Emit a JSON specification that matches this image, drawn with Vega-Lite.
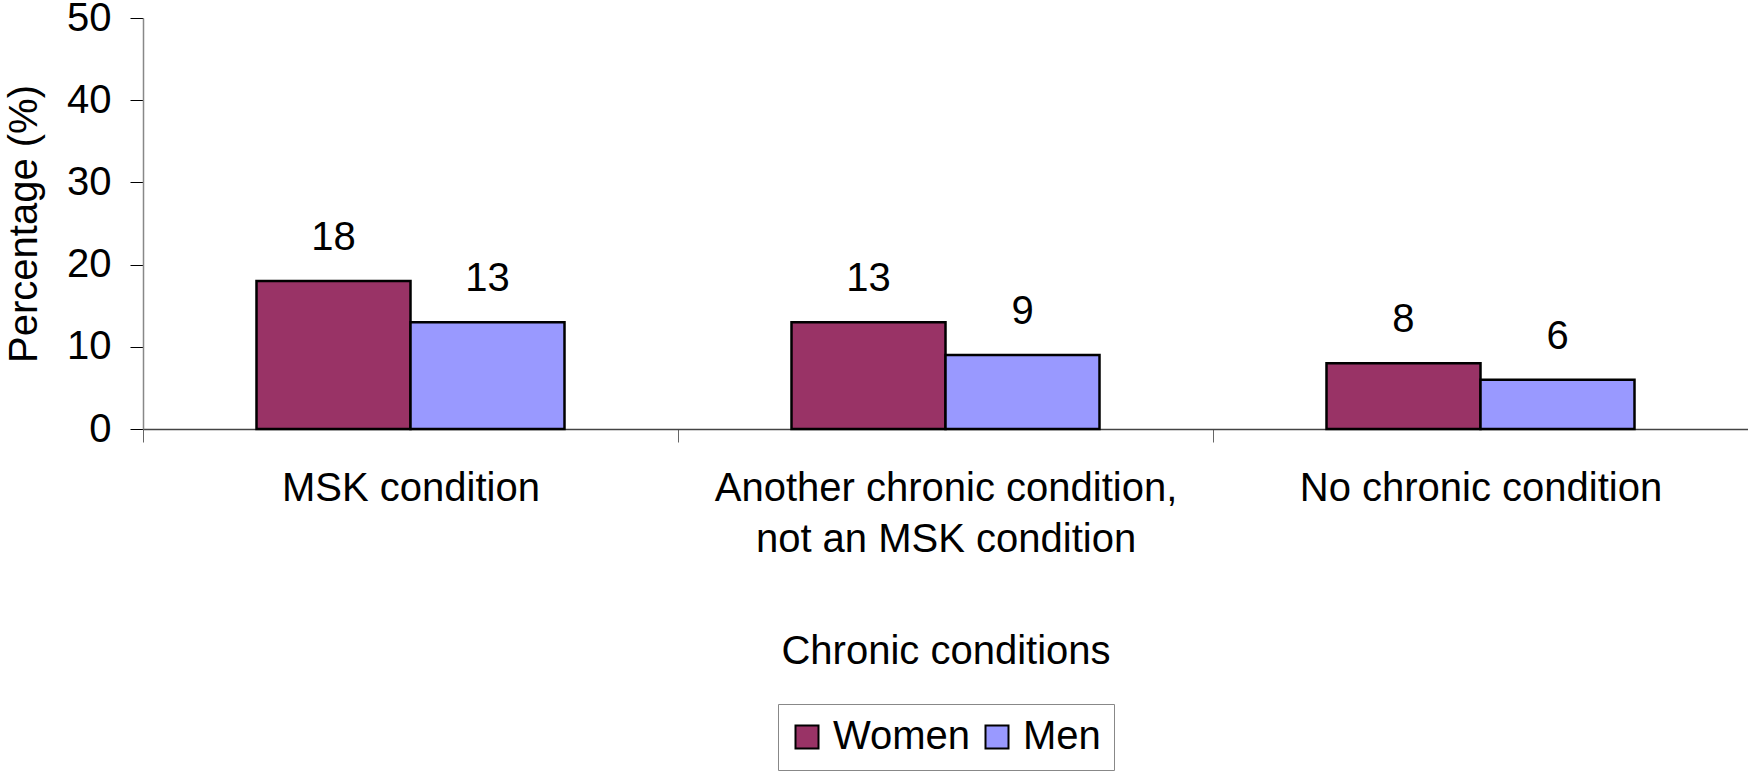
{
  "$schema": "https://vega.github.io/schema/vega-lite/v6.json",
  "width": 1605,
  "height": 411,
  "autosize": "none",
  "padding": {"left": 143, "top": 18, "right": 0, "bottom": 346},
  "background": "white",
  "config": {
    "font": "Liberation Sans",
    "view": {"stroke": null},
    "axis": {"grid": false, "labelFont": "Liberation Sans", "titleFont": "Liberation Sans", "labelColor": "#000", "titleColor": "#000", "titleFontWeight": "normal"}
  },
  "data": {
    "values": [
      {"condition": "MSK condition", "sex": "Women", "pct": 18},
      {"condition": "MSK condition", "sex": "Men", "pct": 13},
      {"condition": "Another chronic condition, not an MSK condition", "sex": "Women", "pct": 13},
      {"condition": "Another chronic condition, not an MSK condition", "sex": "Men", "pct": 9},
      {"condition": "No chronic condition", "sex": "Women", "pct": 8},
      {"condition": "No chronic condition", "sex": "Men", "pct": 6}
    ]
  },
  "encoding": {
    "x": {
      "field": "condition",
      "type": "nominal",
      "sort": null,
      "scale": {"paddingInner": 0, "paddingOuter": 0},
      "axis": {
        "title": "Chronic conditions",
        "titleFontSize": 40,
        "titleBaseline": "alphabetic",
        "titleY": 234,
        "labelAngle": 0,
        "labelFontSize": 40,
        "labelLineHeight": 51,
        "labelPadding": 26,
        "labelLimit": 0,
        "labelExpr": "datum.label == 'Another chronic condition, not an MSK condition' ? ['Another chronic condition,', 'not an MSK condition'] : datum.label",
        "tickBand": "extent",
        "tickSize": 13,
        "tickColor": "#666",
        "domainColor": "#444",
        "domainWidth": 1.5
      }
    },
    "xOffset": {
      "field": "sex",
      "type": "nominal",
      "sort": ["Women", "Men"],
      "scale": {"paddingInner": 0, "paddingOuter": 0.737}
    },
    "y": {
      "field": "pct",
      "type": "quantitative",
      "scale": {"domain": [0, 50]},
      "axis": {
        "title": "Percentage (%)",
        "titleFontSize": 40,
        "titleBaseline": "alphabetic",
        "titleX": -107,
        "values": [0, 10, 20, 30, 40, 50],
        "labelFontSize": 40,
        "labelPadding": 19,
        "tickSize": 13,
        "tickColor": "#000",
        "domainColor": "#888",
        "domainWidth": 1.5
      }
    }
  },
  "layer": [
    {
      "mark": {"type": "bar", "stroke": "#000", "strokeWidth": 2.5},
      "encoding": {
        "color": {
          "field": "sex",
          "type": "nominal",
          "sort": ["Women", "Men"],
          "scale": {"domain": ["Women", "Men"], "range": ["#993366", "#9999FF"]},
          "legend": {
            "title": null,
            "orient": "none",
            "direction": "horizontal",
            "legendX": 635,
            "legendY": 686,
            "padding": 13,
            "strokeColor": "#888",
            "fillColor": "white",
            "symbolType": "square",
            "symbolSize": 529,
            "symbolOffset": -4,
            "symbolStrokeColor": "#000",
            "symbolStrokeWidth": 2,
            "symbolOpacity": 1,
            "labelFontSize": 40,
            "labelFont": "Liberation Sans",
            "labelColor": "#000",
            "labelOffset": 6,
            "columnPadding": 10
          }
        }
      }
    },
    {
      "mark": {"type": "text", "baseline": "alphabetic", "dy": -31, "fontSize": 40, "font": "Liberation Sans", "color": "#000"},
      "encoding": {"text": {"field": "pct", "type": "quantitative"}}
    }
  ]
}
